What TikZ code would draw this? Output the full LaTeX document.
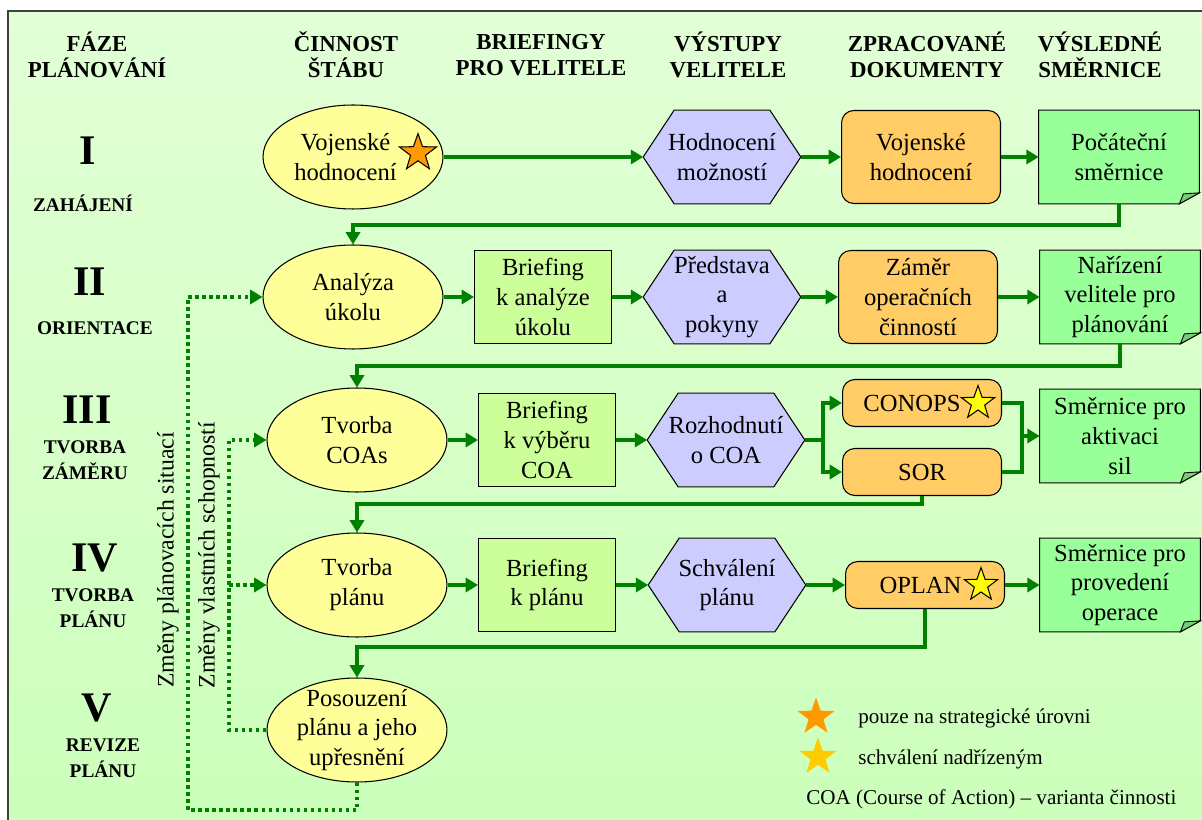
\documentclass[tikz,border=0pt]{standalone}
\usepackage{fontspec}
\setmainfont{Liberation Serif}
\usetikzlibrary{arrows.meta}
\usetikzlibrary{positioning}
\usetikzlibrary{shapes.geometric}

\definecolor{bgtop}{HTML}{E2FFD6}
\definecolor{bgbot}{HTML}{CCFFBB}
\definecolor{flowgreen}{HTML}{008000}
\definecolor{ellcol}{HTML}{FFFF99}
\definecolor{brfcol}{HTML}{CCFF99}
\definecolor{hexcol}{HTML}{CCCCFF}
\definecolor{doccol}{HTML}{FFCC66}
\definecolor{notecol}{HTML}{99FF99}
\definecolor{foldcol}{HTML}{77CC77}
\definecolor{starorange}{HTML}{FF9900}
\definecolor{staryellow}{HTML}{FFFF00}
\definecolor{stargold}{HTML}{FFCC00}

\newcommand{\hexpath}[1]{(#1.west) -- ([xshift=0.62cm]#1.north west) -- ([xshift=-0.62cm]#1.north east) -- (#1.east) -- ([xshift=-0.62cm]#1.south east) -- ([xshift=0.62cm]#1.south west) -- cycle}
\newcommand{\notepath}[1]{(#1.north west) -- (#1.north east) -- ([yshift=0.22cm]#1.south east) -- ([xshift=-0.4cm]#1.south east) -- (#1.south west) -- cycle}

\begin{document}
\begin{tikzpicture}[x=0.02cm,y=-0.02cm,>={Triangle[length=7pt,width=8pt]},
			every node/.style={font=\fontsize{14}{17}\selectfont,align=center}]
			\tikzstyle{head}=[font=\fontsize{13}{14.8}\selectfont\bfseries]
			\tikzstyle{phase}=[font=\fontsize{24}{28}\selectfont\bfseries]
			\tikzstyle{phasename}=[font=\fontsize{11}{14.8}\selectfont\bfseries]
			\tikzstyle{activity}=[ellipse,draw,line width=0.6pt,fill=ellcol,minimum width=3.6cm,minimum height=2.08cm,inner xsep=0pt,inner ysep=-3pt]
			\tikzstyle{briefbox}=[rectangle,draw,line width=0.6pt,fill=brfcol,minimum width=2.74cm,minimum height=1.86cm,inner sep=1pt]
			\tikzstyle{outhex}=[rectangle,minimum width=3.14cm,minimum height=1.86cm,inner sep=0pt,path picture={\fill[hexcol] \hexpath{path picture bounding box};}]
			\tikzstyle{docbox}=[rectangle,rounded corners=7pt,draw,line width=0.6pt,fill=doccol,minimum width=3.18cm,minimum height=1.86cm,inner sep=1pt]
			\tikzstyle{smalldoc}=[docbox,minimum height=0.94cm]
			\tikzstyle{notebox}=[rectangle,minimum width=3.2cm,minimum height=1.86cm,inner sep=1pt,path picture={\fill[notecol] \notepath{path picture bounding box};}]
			\tikzstyle{markstar}=[star,star points=5,star point ratio=2.5,minimum size=0.78cm,inner sep=0pt]
			\tikzstyle{flow}=[->,draw=flowgreen,line width=2.2pt]
			\tikzstyle{link}=[draw=flowgreen,line width=2.2pt]
			\tikzstyle{dotflow}=[->,draw=flowgreen,line width=2pt,dash pattern=on 2pt off 2pt]
			\tikzstyle{legend}=[anchor=west,inner sep=0pt,font=\fontsize{12}{14}\selectfont]
			
			\useasboundingbox (0,0) rectangle (1202,820);
			\shade[top color=bgtop,bottom color=bgbot] (8,11) rectangle (1202,820);
			\draw[line width=1pt,black!75] (1202,11) -- (8,11) -- (8,820);
			
			\node[head] (hPhase) at (97,55)  {FÁZE\\PLÁNOVÁNÍ};
			\node[head] (hStaff) at (346,55) {ČINNOST\\ŠTÁBU};
			\node[head] (hBrief) at (541,55) {BRIEFINGY\\PRO VELITELE};
			\node[head] (hOut)   at (728,55) {VÝSTUPY\\VELITELE};
			\node[head] (hDoc)   at (927,55) {ZPRACOVANÉ\\DOKUMENTY};
			\node[head] (hDir)   at (1100,55) {VÝSLEDNÉ\\SMĚRNICE};
			
			\node[phase]     (P1)  at (88,151)  {I};
			\node[phasename] (P1n) at (83,203)  {ZAHÁJENÍ};
			\node[phase]     (P2)  at (90,282)  {II};
			\node[phasename] (P2n) at (95,328)  {ORIENTACE};
			\node[phase]     (P3)  at (87,410)  {III};
			\node[phasename] (P3n) at (85,460)  {TVORBA\\ZÁMĚRU};
			\node[phase]     (P4)  at (95,558)  {IV};
			\node[phasename] (P4n) at (93,608)  {TVORBA\\PLÁNU};
			\node[phase]     (P5)  at (97,708)  {V};
			\node[phasename] (P5n) at (103,758) {REVIZE\\PLÁNU};
			
			\node[activity] (E1) at (353,157) {Vojenské\hspace*{0.3cm}\\hodnocení\hspace*{0.3cm}};
			\node[activity] (E2) at (353,297) {Analýza\\úkolu};
			\node[activity] (E3) at (357,440) {Tvorba\\COAs};
			\node[activity] (E4) at (357,585) {Tvorba\\plánu};
			\node[activity] (E5) at (357,730) {Posouzení\\plánu a jeho\\upřesnění};
			
			\node[briefbox] (R2) at (543,297) {Briefing\\k analýze\\úkolu};
			\node[briefbox] (R3) at (547,440) {Briefing\\k výběru\\COA};
			\node[briefbox] (R4) at (547,585) {Briefing\\k plánu};
			
			\node[outhex] (H1) at (722,157) {Hodnocení\\možností};
			\node[outhex] (H2) at (722,297) {Představa\\a\\pokyny};
			\node[outhex] (H3) at (726,440) {Rozhodnutí\\o COA};
			\node[outhex] (H4) at (727,585) {Schválení\\plánu};
			
			\node[docbox]   (O1)  at (921,157) {Vojenské\\hodnocení};
			\node[docbox]   (O2)  at (918,297) {Záměr\\operačních\\činností};
			\node[smalldoc] (O3a) at (922,403) {CONOPS\hspace*{0.4cm}};
			\node[smalldoc] (O3b) at (922,472) {SOR};
			\node[smalldoc] (O4)  at (925,585) {OPLAN\hspace*{0.18cm}};
			
			\node[notebox] (N1) at (1119,157) {Počáteční\\směrnice};
			\node[notebox] (N2) at (1120,297) {Nařízení\\velitele pro\\plánování};
			\node[notebox] (N3) at (1120,436) {Směrnice pro\\aktivaci\\sil};
			\node[notebox] (N4) at (1120,585) {Směrnice pro\\provedení\\operace};
			
			\foreach \n in {H1,H2,H3,H4}
				\draw[line width=0.6pt] \hexpath{\n};
			\foreach \n in {N1,N2,N3,N4} {
				\draw[line width=0.6pt] \notepath{\n};
				\draw[line width=0.5pt,fill=foldcol] ([xshift=-0.4cm]\n.south east) -- ([yshift=0.22cm]\n.south east) -- ([xshift=-0.32cm,yshift=0.2cm]\n.south east) -- cycle;
			}
			
			\node[markstar,draw,line width=0.6pt,fill=starorange] (S1) at (418,153) {};
			\node[markstar,draw,line width=0.6pt,fill=staryellow,minimum size=0.7cm] (S3) at (978,403) {};
			\node[markstar,draw,line width=0.6pt,fill=staryellow,minimum size=0.7cm] (S4) at (981,585) {};
			
			\path (E1) edge[flow] (H1)
			(H1) edge[flow] (O1)
			(O1) edge[flow] (N1)
			(E2) edge[flow] (R2)
			(R2) edge[flow] (H2)
			(H2) edge[flow] (O2)
			(O2) edge[flow] (N2)
			(E3) edge[flow] (R3)
			(R3) edge[flow] (H3)
			(E4) edge[flow] (R4)
			(R4) edge[flow] (H4)
			(H4) edge[flow] (O4)
			(O4) edge[flow] (N4);
			
			\draw[flow] (N1.south) -- ++(0,21) -| (E2.north);
			\draw[flow] (N2.south) -- ++(0,22) -| (E3.north);
			\draw[flow] (O3b.south) -- ++(0,8) -| (E4.north);
			\draw[flow] (O4.south) -- ++(0,38) -| (E5.north);
			
			\draw[link] (H3.east) -- ++(18,0) coordinate (split);
			\draw[flow] (split) |- (O3a.west);
			\draw[flow] (split) |- (O3b.west);
			\coordinate (merge) at (1022,436);
			\draw[link] (O3a.east) -| (merge);
			\draw[link] (O3b.east) -| (merge);
			\draw[flow] (merge) -- (N3.west);
			
			\coordinate (outerbend) at (188,810);
			\coordinate (innerbend) at (229,730);
			\draw[dotflow] (E5.south) |- (outerbend) |- (E2.west);
			\draw[dotflow] (E5.west) -- (innerbend) |- (E3.west);
			\draw[dotflow] (E4.west -| innerbend) -- (E4.west);
			
			\node[rotate=90,font=\fontsize{13.5}{16}\selectfont] (chgSit) at (168,560) {Změny plánovacích situací};
			\node[rotate=90,font=\fontsize{13.5}{16}\selectfont] (chgOwn) at (209,555) {Změny vlastních schopností};
			
			\node[markstar,fill=starorange] (legO) at (816,717) {};
			\node[legend] (legOtxt) at (858,718) {pouze na strategické úrovni};
			\node[markstar,fill=stargold] (legY) at (818,757) {};
			\node[legend] (legYtxt) at (858,759) {schválení nadřízeným};
			\node[legend] (legCOA) at (806,799) {COA (Course of Action) – varianta činnosti};
			
\end{tikzpicture}
\end{document}
